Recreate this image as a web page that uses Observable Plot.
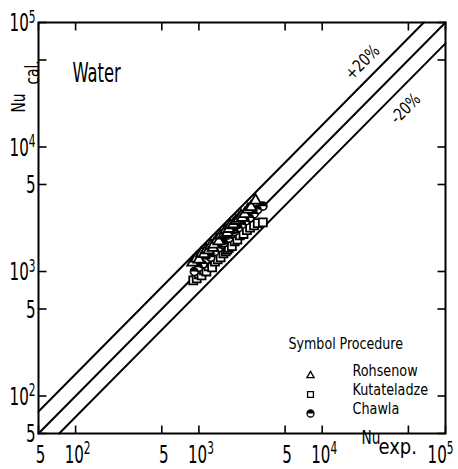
<!DOCTYPE html>
<html><head><meta charset="utf-8">
<script src="https://cdn.jsdelivr.net/npm/d3@7"></script>
<script src="https://cdn.jsdelivr.net/npm/@observablehq/plot@0.6"></script>
<style>
html,body{margin:0;padding:0;background:#fff;}
</style>
</head><body><div id="chart"></div>
<script>
// ---- data ----
const rohsenowX = [890, 950, 1000, 1050, 1100, 1150, 1200, 1250, 1300, 1320, 1400, 1450, 1500, 1600, 1650, 1700, 1750, 1800, 1900, 2000, 2100, 2200, 2250, 2350, 2500, 2650, 2880];
const rohsenowY = [1180, 1270, 1250, 1400, 1380, 1500, 1480, 1620, 1550, 1650, 1800, 1750, 1950, 2000, 2150, 2050, 2200, 2350, 2400, 2550, 2650, 2800, 2700, 2900, 3150, 3300, 3720];
const kutateladzeX = [900, 960, 1000, 1050, 1100, 1150, 1200, 1250, 1280, 1350, 1420, 1500, 1580, 1650, 1700, 1750, 1850, 1950, 2050, 2150, 2300, 2450, 2600, 2800, 3000, 3300];
const kutateladzeY = [850, 880, 950, 930, 1020, 1000, 1100, 1180, 1080, 1200, 1250, 1300, 1400, 1450, 1500, 1550, 1600, 1750, 1800, 1950, 2000, 2150, 2250, 2350, 2450, 2480];
const chawlaX = [920, 1000, 1080, 1150, 1200, 1250, 1350, 1450, 1550, 1600, 1650, 1750, 1850, 1950, 2000, 2100, 2250, 2400, 2600, 2800, 3000, 3300];
const chawlaY = [1000, 1080, 1150, 1250, 1350, 1300, 1450, 1550, 1650, 1700, 1800, 1850, 2000, 2100, 2200, 2250, 2400, 2550, 2700, 2900, 3150, 3350];

const bandFactors = [1.5, 1, 0.68];          // Nu_cal / Nu_exp for the three reference lines
const bandLabels = ["+20%", "-20%"];
const bandLabelX = [21200, 47400];
const xTicks = [50, 100, 500, 1000, 5000, 10000, 50000, 100000];
const yTicks = [50, 100, 500, 1000, 5000, 10000, 50000, 100000];
const xLabelTicks = [50, 100, 500, 1000, 5000, 10000, 100000];
const yLabelTicks = [50, 100, 500, 1000, 5000, 10000, 100000];
const procedures = ["Rohsenow", "Kutateladze", "Chawla"];
const legendHeader = ["Symbol", "Procedure"];
const fluid = "Water";
const xLabel = ["Nu", "exp."];
const yLabel = ["Nu", "cal."];

// ---- build tables ----
const toRows = (xs, ys) => xs.map((x, i) => ({x, y: ys[i]}));
const rohsenow = toRows(rohsenowX, rohsenowY);
const kutateladze = toRows(kutateladzeX, kutateladzeY);
const chawla = toRows(chawlaX, chawlaY);
const lo = 50, hi = 1e5;
const bandLines = bandFactors.flatMap(f => {
  const x0 = Math.max(lo, lo / f), x1 = Math.min(hi, hi / f);
  return [{f, x: x0, y: f * x0}, {f, x: x1, y: f * x1}];
});

const fmt = d => {
  const e = Math.round(Math.log10(d));
  return Math.abs(10 ** e - d) < 1e-6 ? "10^" + e : String(d).charAt(0);
};

const FONT = '"Liberation Sans Narrow","DejaVu Sans Condensed","DejaVu Sans",sans-serif';

const W = 458, H = 469, ML = 38, MR = 13, MT = 22, MB = 36;
// inward tick length expressed as a factor along each log axis
const TL = 8;
const kx = (hi / lo) ** (TL / (W - ML - MR));
const ky = (hi / lo) ** (TL / (H - MT - MB));
const tickRows = [];
for (const t of xTicks) {
  tickRows.push({x1: t, x2: t, y1: lo, y2: lo * ky});
  tickRows.push({x1: t, x2: t, y1: hi / ky, y2: hi});
}
for (const t of yTicks) {
  tickRows.push({x1: lo, x2: lo * kx, y1: t, y2: t});
  tickRows.push({x1: hi / kx, x2: hi, y1: t, y2: t});
}

const halfTop = {draw(ctx, size) {
  const r = Math.sqrt(size / Math.PI);
  ctx.moveTo(-r, 0);
  ctx.arc(0, 0, r, Math.PI, 2 * Math.PI);
  ctx.closePath();
}};
const legendRowDy = i => -58 + 19 * i;

const chart = Plot.plot({
  width: W, height: H,
  marginLeft: ML, marginRight: MR, marginTop: MT, marginBottom: MB,
  x: {type: "log", domain: [lo, hi], axis: null},
  y: {type: "log", domain: [lo, hi], axis: null},
  style: {fontFamily: FONT, fontSize: "20px", color: "black", background: "white"},
  marks: [
    Plot.line(bandLines, {x: "x", y: "y", z: "f", stroke: "black", strokeWidth: 2}),
    // inward ticks on all four sides
    Plot.link(tickRows, {x1: "x1", y1: "y1", x2: "x2", y2: "y2", stroke: "black", strokeWidth: 1.6}),
    // tick labels
    Plot.text(xLabelTicks.filter(d => d < hi), {x: d => d, frameAnchor: "bottom", text: fmt, lineAnchor: "top", dy: 12, dx: 2, fontSize: 24}),
    Plot.text(xLabelTicks.filter(d => d >= hi), {x: d => d, frameAnchor: "bottom", text: fmt, lineAnchor: "top", dy: 12, dx: -5, fontSize: 24}),
    Plot.text(yLabelTicks, {y: d => d, frameAnchor: "left", text: fmt, textAnchor: "end", dx: -3, dy: 1, fontSize: 24}),
    Plot.frame({stroke: "black", strokeWidth: 2}),
    // data points
    Plot.dot(kutateladze, {x: "x", y: "y", symbol: "square", r: 4.5, fill: "white", stroke: "black", strokeWidth: 1.8}),
    Plot.dot(chawla, {x: "x", y: "y", symbol: "circle", r: 4, fill: "white", stroke: "black", strokeWidth: 1.7}),
    Plot.dot(chawla, {x: "x", y: "y", symbol: halfTop, r: 4, fill: "black", stroke: "none"}),
    Plot.dot(rohsenow, {x: "x", y: "y", symbol: "triangle", r: 4, fill: "white", stroke: "black", strokeWidth: 1.8}),
    // band labels
    Plot.text([bandLabels[0]], {x: () => bandLabelX[0], y: () => bandFactors[0] * bandLabelX[0], text: d => d, rotate: -45, dy: -22, fontSize: 17}),
    Plot.text([bandLabels[1]], {x: () => bandLabelX[1], y: () => bandFactors[2] * bandLabelX[1], text: d => d, rotate: -45, dy: 25, fontSize: 17}),
    // fluid label
    Plot.text([fluid], {frameAnchor: "top-left", text: d => d, dx: 34, dy: 41, textAnchor: "start", fontSize: 26}),
    // axis titles
    Plot.text([xLabel[0]], {frameAnchor: "bottom-right", text: d => d, dx: -84, dy: 10, textAnchor: "start", fontSize: 19}),
    Plot.text([xLabel[1]], {frameAnchor: "bottom-right", text: d => d, dx: -67, dy: 20, textAnchor: "start", fontSize: 21}),
    Plot.text([yLabel[0]], {frameAnchor: "top-left", text: d => d, dx: -27, dy: 90, rotate: -90, textAnchor: "start", fontSize: 19}),
    Plot.text([yLabel[1]], {frameAnchor: "top-left", text: d => d, dx: -13, dy: 62, rotate: -90, textAnchor: "start", fontSize: 19}),
    // legend
    Plot.text([legendHeader[0]], {frameAnchor: "bottom-right", text: d => d, dx: -157, dy: -85, textAnchor: "start", fontSize: 16}),
    Plot.text([legendHeader[1]], {frameAnchor: "bottom-right", text: d => d, dx: -106, dy: -85, textAnchor: "start", fontSize: 16}),
    ...procedures.map((p, i) => Plot.text([p], {frameAnchor: "bottom-right", text: d => d, dx: -93, dy: legendRowDy(i), textAnchor: "start", fontSize: 15})),
    Plot.dot([procedures[0]], {frameAnchor: "bottom-right", dx: -135, dy: legendRowDy(0), symbol: "triangle", r: 2.7, fill: "white", stroke: "black", strokeWidth: 1.3}),
    Plot.dot([procedures[1]], {frameAnchor: "bottom-right", dx: -135, dy: legendRowDy(1), symbol: "square", r: 3.3, fill: "white", stroke: "black", strokeWidth: 1.3}),
    Plot.dot([procedures[2]], {frameAnchor: "bottom-right", dx: -135, dy: legendRowDy(2), symbol: "circle", r: 3.5, fill: "white", stroke: "black", strokeWidth: 1.3}),
    Plot.dot([procedures[2]], {frameAnchor: "bottom-right", dx: -135, dy: legendRowDy(2), symbol: halfTop, r: 3.5, fill: "black", stroke: "none"})
  ]
});

// superscript exponents in tick labels
d3.select(chart).selectAll("text").each(function() {
  const m = /^10\^(\d)$/.exec(this.textContent);
  if (!m) return;
  const sel = d3.select(this);
  sel.selectAll("*").remove();
  sel.text("10");
  sel.append("tspan").attr("dy", "-0.5em").attr("font-size", "0.7em").text(m[1]);
});

// narrow the lettering horizontally, like the condensed face of the reference
const squeeze = {24: 0.7, 26: 0.7, 19: 0.8, 21: 0.95, 17: 0.87, 16: 0.88, 15: 0.95};
d3.select(chart).selectAll("text").each(function() {
  const holder = this.closest("[font-size]");
  const fs = parseFloat(this.getAttribute("font-size") || (holder && holder.getAttribute("font-size")));
  const s = squeeze[fs] ?? 0.8;
  const x = parseFloat(this.getAttribute("x")) || 0;
  const tr = this.getAttribute("transform") || "";
  this.setAttribute("transform", `${tr} translate(${x},0) scale(${s},1) translate(${-x},0)`);
});

document.getElementById("chart").appendChild(chart);
</script>
</body></html>
